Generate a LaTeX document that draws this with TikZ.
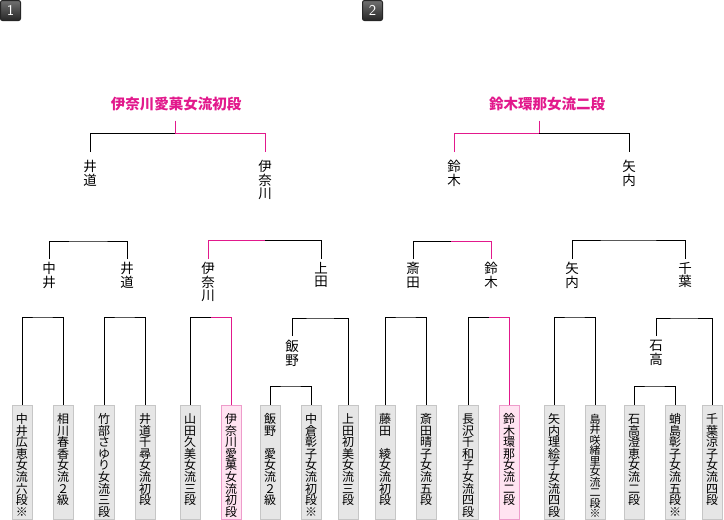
\documentclass[tikz,border=0pt]{standalone}
\usepackage{fontspec}
\setmainfont{Noto Sans CJK JP}
\usepackage{tikz}
\usetikzlibrary{positioning}
\definecolor{winpink}{HTML}{E2198C}
\definecolor{boxgray}{HTML}{E6E6E6}
\definecolor{edgegray}{HTML}{C6C6C6}
\definecolor{softpink}{HTML}{FFE3F1}
\definecolor{edgepink}{HTML}{EE9CCB}
\definecolor{badgetop}{HTML}{707070}
\definecolor{badgebot}{HTML}{262626}

\begin{document}
\begin{tikzpicture}[x=1pt,y=-1pt,line width=1pt,
			win/.style={draw=winpink},
			badge/.style={rounded corners=2pt,top color=badgetop,bottom color=badgebot,draw=badgebot,text=white,minimum size=20pt,inner sep=0pt,font=\fontsize{15}{15}\selectfont\sffamily},
			tit/.style={text=winpink,minimum height=32pt,inner sep=0pt,font=\fontsize{14.5}{15}\selectfont\bfseries},
			nm/.style={anchor=north,align=center,inner xsep=0pt,inner ysep=3pt,font=\fontsize{13.5}{13.3}\selectfont},
			pl/.style={draw=edgegray,fill=boxgray,anchor=north,align=center,text width=20pt,minimum width=20pt,inner xsep=0pt,inner ysep=4pt,text height=14pt,text depth=92pt,font=\fontsize{12}{11.6}\selectfont},
			plw/.style={pl,draw=edgepink,fill=softpink},
			narrow/.style={font=\fontsize{11}{10.45}\selectfont}
			]
			\useasboundingbox (0,0) rectangle (724,520);
			\node[badge] (b1) at (10.5,10.5) {1};
			\node[badge] (b2) at (372.5,10.5) {2};
			\node[tit] (tL) at (176,104) {伊奈川愛菓女流初段};
			\node[tit] (tR) at (547,104) {鈴木環那女流二段};
			% finals
			\node[nm,inner ysep=8pt] (ido2) at (90,152) {井\\道};
			\node[nm,inner ysep=8pt] (ina2) at (265,152) {伊\\奈\\川};
			\node[nm,inner ysep=8pt] (suz2) at (454,152) {鈴\\木};
			\node[nm,inner ysep=8pt] (yan2) at (629,152) {矢\\内};
			\coordinate (fL) at (175,133);
			\coordinate (fR) at (539,133);
			\draw[win] (tL.south -| fL) -- (fL);
			\draw (ido2.north) |- (fL);
			\draw[win] (fL) -| (ina2.north);
			\draw[win] (tR.south -| fR) -- (fR);
			\draw[win] (suz2.north) |- (fR);
			\draw (fR) -| (yan2.north);
			% second round
			\node[nm] (nak1) at (49,259) {中\\井};
			\node[nm] (ido1) at (127,259) {井\\道};
			\node[nm] (ina1) at (208,259) {伊\\奈\\川};
			\node[nm] (ued1) at (321,259) {上\\田};
			\node[nm] (sai1) at (413,259) {斎\\田};
			\node[nm] (suz1) at (491,259) {鈴\\木};
			\node[nm] (yan1) at (572,259) {矢\\内};
			\node[nm] (chi1) at (685,259) {千\\葉};
			\coordinate (sL1) at (88,241);
			\coordinate (sL2) at (265,240);
			\coordinate (sR1) at (451,241);
			\coordinate (sR2) at (628,240);
			\draw (nak1.north) |- (sL1) -| (ido1.north);
			\draw[win] (ina1.north) |- (sL2);
			\draw (sL2) -| (ued1.north);
			\draw (sai1.north) |- (sR1);
			\draw[win] (sR1) -| (suz1.north);
			\draw (yan1.north) |- (sR2) -| (chi1.north);
			% first round
			\node[pl] (p1) at (22,405) {中\\井\\広\\恵\\女\\流\\六\\段\\※};
			\node[pl] (p2) at (63,405) {相\\川\\春\\香\\女\\流\\２\\級};
			\node[pl] (p3) at (104,405) {竹\\部\\さ\\ゆ\\り\\女\\流\\三\\段};
			\node[pl] (p4) at (145,405) {井\\道\\千\\尋\\女\\流\\初\\段};
			\node[pl] (p5) at (190,405) {山\\田\\久\\美\\女\\流\\三\\段};
			\node[plw] (p6) at (231,405) {伊\\奈\\川\\愛\\菓\\女\\流\\初\\段};
			\node[pl] (p7) at (270,405) {飯\\野\\\mbox{}\\愛\\女\\流\\２\\級};
			\node[pl] (p8) at (311,405) {中\\倉\\彰\\子\\女\\流\\初\\段\\※};
			\node[pl] (p9) at (348,405) {上\\田\\初\\美\\女\\流\\三\\段};
			\node[pl] (p10) at (385,405) {藤\\田\\\mbox{}\\綾\\女\\流\\初\\段};
			\node[pl] (p11) at (426,405) {斎\\田\\晴\\子\\女\\流\\五\\段};
			\node[pl] (p12) at (468,405) {長\\沢\\千\\和\\子\\女\\流\\四\\段};
			\node[plw] (p13) at (509,405) {鈴\\木\\環\\那\\女\\流\\二\\段};
			\node[pl] (p14) at (554,405) {矢\\内\\理\\絵\\子\\女\\流\\四\\段};
			\node[pl,narrow] (p15) at (595,405) {島\\井\\咲\\緒\\里\\女\\流\\二\\段\\※};
			\node[pl] (p16) at (634,405) {石\\高\\澄\\恵\\女\\流\\二\\段};
			\node[pl] (p17) at (675,405) {蛸\\島\\彰\\子\\女\\流\\五\\段\\※};
			\node[pl] (p18) at (712,405) {千\\葉\\涼\\子\\女\\流\\四\\段};
			\node[nm,inner ysep=4pt] (iin0) at (292,336) {飯\\野};
			\node[nm,inner ysep=4pt] (ish0) at (656,336) {石\\高};
			\coordinate (qL1) at (42.5,317);
			\coordinate (qL2) at (124.5,317);
			\coordinate (qL3) at (210.5,317);
			\coordinate (qL4) at (320,318);
			\coordinate (qL5) at (290.5,386);
			\coordinate (qR1) at (405.5,317);
			\coordinate (qR2) at (488.5,317);
			\coordinate (qR3) at (574.5,317);
			\coordinate (qR4) at (684,318);
			\coordinate (qR5) at (654.5,386);
			\draw (p1.north) |- (qL1) -| (p2.north);
			\draw (p3.north) |- (qL2) -| (p4.north);
			\draw (p5.north) |- (qL3);
			\draw[win] (qL3) -| (p6.north);
			\draw (iin0.north) |- (qL4) -| (p9.north);
			\draw (p7.north) |- (qL5) -| (p8.north);
			\draw (p10.north) |- (qR1) -| (p11.north);
			\draw (p12.north) |- (qR2);
			\draw[win] (qR2) -| (p13.north);
			\draw (p14.north) |- (qR3) -| (p15.north);
			\draw (ish0.north) |- (qR4) -| (p18.north);
			\draw (p16.north) |- (qR5) -| (p17.north);
		\end{tikzpicture}
\end{document}
